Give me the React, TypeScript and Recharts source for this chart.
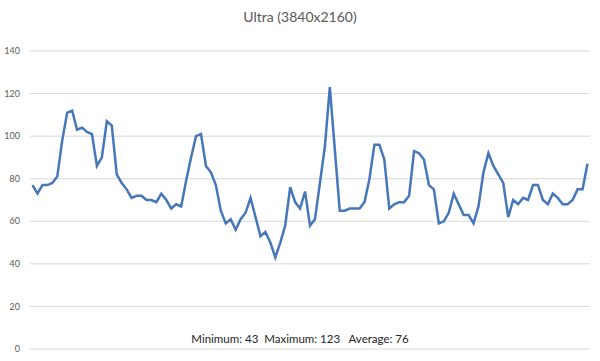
import { LineChart, Line, XAxis, YAxis, CartesianGrid } from 'recharts';

// frame rate samples, one per run step
const fps = [
  77, 73, 77, 77, 78, 81, 98, 111, 112, 103, 104, 102, 101, 86, 90, 107, 105, 82, 78, 75,
  71, 72, 72, 70, 70, 69, 73, 70, 66, 68, 67, 79, 90, 100, 101, 86, 83, 77, 65, 59,
  61, 56, 61, 64, 71, 62, 53, 55, 50, 43, 50, 58, 76, 69, 66, 74, 58, 61, 78, 95,
  123, 94, 65, 65, 66, 66, 66, 69, 80, 96, 96, 89, 66, 68, 69, 69, 72, 93, 92, 89,
  77, 75, 59, 60, 64, 73, 68, 63, 63, 59, 67, 83, 92, 86, 82, 78, 62, 70, 68, 71,
  70, 77, 77, 70, 68, 73, 71, 68, 68, 70, 75, 75, 87,
];
const yTicks = [0, 20, 40, 60, 80, 100, 120, 140];
const title = 'Ultra (3840x2160)';
const summary = 'Minimum: 43\u00a0\u00a0Maximum: 123\u00a0\u00a0\u00a0Average: 76';

const data = fps.map((v, i) => ({ step: i + 1, fps: v }));

export default function App() {
  return (
    <div
      style={{
        position: 'absolute',
        left: 0,
        top: 0,
        width: 600,
        height: 361,
        background: '#fff',
        fontFamily: 'Lato, "Open Sans", sans-serif',
      }}
    >
      <div
        style={{
          position: 'absolute',
          top: 8,
          width: 600,
          textAlign: 'center',
          fontSize: 14,
          color: '#595959',
        }}
      >
        {title}
      </div>
      <LineChart width={600} height={361} data={data} margin={{ top: 51, right: 10, bottom: 12, left: 0 }}>
        <CartesianGrid vertical={false} stroke="#d9d9d9" />
        <XAxis dataKey="step" hide padding={{ left: 2.5, right: 2.5 }} />
        <YAxis
          domain={[0, 140]}
          ticks={yTicks}
          width={30}
          axisLine={false}
          tickLine={false}
          tickSize={0}
          tickMargin={10}
          tick={{ fontSize: 9, fill: '#595959' }}
        />
        <Line
          type="linear"
          dataKey="fps"
          stroke="#4677bb"
          strokeWidth={2.5}
          dot={false}
          isAnimationActive={false}
        />
      </LineChart>
      <div
        style={{
          position: 'absolute',
          top: 332,
          width: 600,
          textAlign: 'center',
          fontSize: 11.5,
          color: '#262626',
        }}
      >
        {summary}
      </div>
    </div>
  );
}
